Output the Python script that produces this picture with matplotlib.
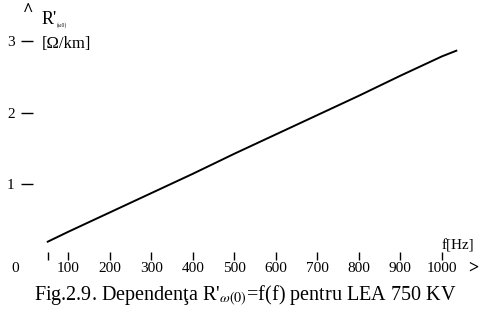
import matplotlib.pyplot as plt

plt.rcParams['font.family'] = ['Liberation Serif', 'DejaVu Serif']
plt.rcParams['mathtext.fontset'] = 'stix'

# date
frecv = [50, 100, 200, 300, 400, 500, 600, 700, 800, 900, 1000, 1035]
rezist = [0.20, 0.34, 0.61, 0.88, 1.15, 1.43, 1.70, 1.97, 2.24, 2.52, 2.79, 2.87]

x_ticks = [50, 100, 200, 300, 400, 500, 600, 700, 800, 900, 1000]
x_labels = ['', '100', '200', '300', '400', '500', '600', '700', '800', '900', '1000']
y_ticks = [1, 2, 3]
y_labels = ['1', '2', '3']

fig = plt.figure(figsize=(4.8, 3.2), dpi=100)
ax = fig.add_axes([0.05625, 0.20, 0.9333, 0.76])

ax.plot(frecv, rezist, color='black', lw=1.4)

ax.set_xlim(0, 1080)
ax.set_ylim(0, 3.4)
for s in ax.spines.values():
    s.set_visible(False)

ax.set_xticks(x_ticks)
ax.set_xticklabels(x_labels, fontsize=11)
ax.set_yticks(y_ticks)
ax.set_yticklabels(y_labels, fontsize=11)
ax.tick_params(axis='x', direction='inout', length=6, width=1, pad=1)
ax.tick_params(axis='y', direction='inout', length=8, width=1, pad=5)

# sageti si etichete axe
fig.text(28 / 480, 1 - 12 / 320, '^', fontsize=13, fontweight='bold',
         ha='center', va='center')
fig.text(473 / 480, 1 - 268 / 320, '>', fontsize=13, fontweight='bold',
         ha='center', va='center')
fig.text(15 / 480, 1 - 268 / 320, '0', fontsize=11, ha='center', va='center')
fig.text(42 / 480, 1 - 19 / 320, "R'", fontsize=13, ha='left', va='center')
fig.text(57 / 480, 1 - 25 / 320, '(ω0)', fontsize=4, ha='left', va='center')
fig.text(42 / 480, 1 - 44 / 320, '[Ω/km]', fontsize=12, ha='left', va='center')
fig.text(458 / 480, 1 - 246 / 320, 'f[Hz]', fontsize=11, ha='center', va='center')

fig.text(245 / 480, 1 - 301 / 320,
         "Fig.2.9. Dependenţa R'$_{\\omega(0)}$=f(f) pentru LEA 750 KV",
         fontsize=14.5, ha='center', va='baseline')

fig.savefig('out.png', dpi=100)
